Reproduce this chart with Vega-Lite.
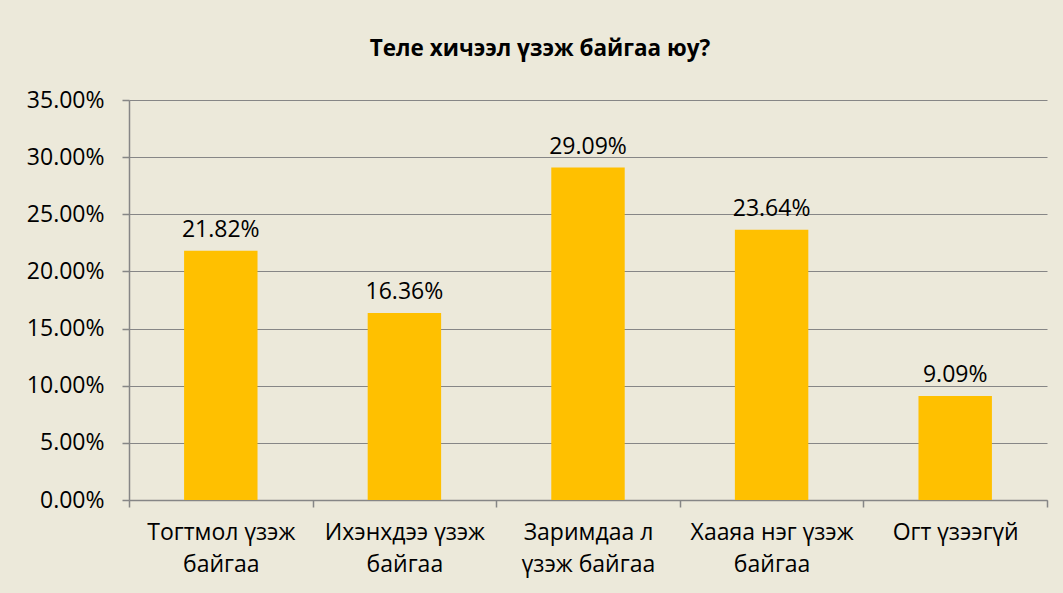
{
  "$schema": "https://vega.github.io/schema/vega-lite/v6.json",
  "autosize": "none",
  "width": 918,
  "height": 400,
  "padding": {"left": 129, "top": 100, "right": 16, "bottom": 93},
  "background": "#ECE9DA",
  "title": {"text": "Теле хичээл үзэж байгаа юу?", "font": "Open Sans", "fontSize": 22.5, "fontWeight": "bold", "color": "#000000", "anchor": "middle", "frame": "group", "dx": -48, "offset": 29},
  "data": {"values": [
    {"category": "Тогтмол үзэж байгаа", "value": 0.2182},
    {"category": "Ихэнхдээ үзэж байгаа", "value": 0.1636},
    {"category": "Заримдаа л үзэж байгаа", "value": 0.2909},
    {"category": "Хааяа нэг үзэж байгаа", "value": 0.2364},
    {"category": "Огт үзээгүй", "value": 0.0909}
  ]},
  "encoding": {
    "x": {"field": "category", "type": "nominal", "sort": null, "title": null,
      "scale": {"paddingInner": 0, "paddingOuter": 0},
      "axis": {"labelAngle": 0, "tickBand": "extent", "tickSize": 7, "tickColor": "#868686", "domainColor": "#868686", "labelFont": "Open Sans", "labelFontSize": 23, "labelColor": "#000000", "labelPadding": 14, "labelLineHeight": 32, "labelBaseline": "top",
        "labelExpr": "!datum.label ? '' : (datum.label == 'Заримдаа л үзэж байгаа' ? ['Заримдаа л', 'үзэж байгаа'] : (datum.label == 'Огт үзээгүй' ? datum.label : [replace(datum.label, ' байгаа', ''), 'байгаа']))"}},
    "y": {"field": "value", "type": "quantitative", "title": null,
      "scale": {"domain": [0, 0.35]},
      "axis": {"format": ".2%", "values": [0, 0.05, 0.1, 0.15, 0.2, 0.25, 0.3, 0.35], "tickSize": 7, "tickColor": "#868686", "domainColor": "#868686", "gridColor": "#868686", "grid": true, "labelFont": "Open Sans", "labelFontSize": 23, "labelColor": "#000000", "labelPadding": 18}}
  },
  "layer": [
    {"mark": {"type": "bar", "color": "#FFC000", "width": {"band": 0.4}}},
    {"mark": {"type": "text", "font": "Open Sans", "fontSize": 23, "color": "#000000", "baseline": "bottom", "dy": -9}, "encoding": {"text": {"field": "value", "format": ".2%"}}}
  ],
  "config": {"view": {"stroke": null}, "axis": {"domainWidth": 1.5, "gridWidth": 1.2, "tickWidth": 1.5}}
}
